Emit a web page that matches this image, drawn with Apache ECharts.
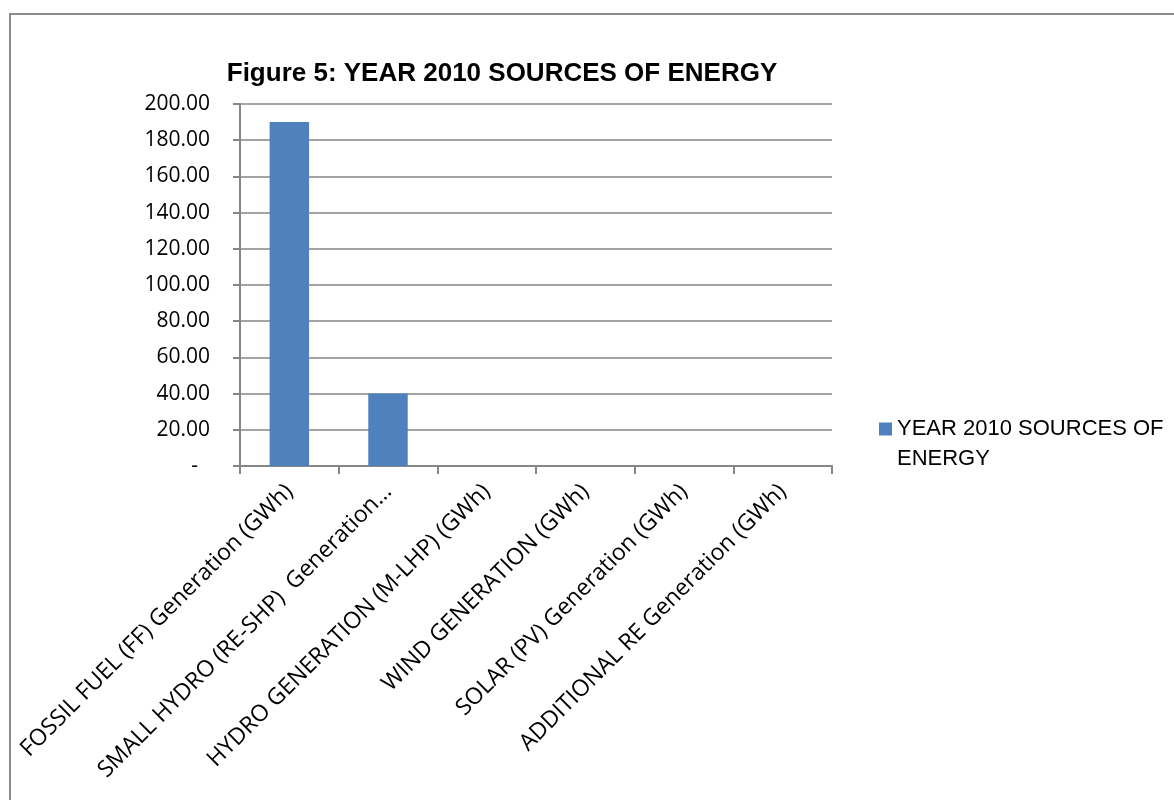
<!DOCTYPE html>
<html><head><meta charset="utf-8">
<script src="https://cdn.jsdelivr.net/npm/echarts@6/dist/echarts.min.js"></script>
<style>html,body{margin:0;padding:0;background:#fff}#c{width:1174px;height:800px}</style>
</head><body><div id="c"></div>
<script>
var categories = ['FOSSIL FUEL (FF) Generation (GWh)','SMALL HYDRO (RE-SHP)  Generation…','HYDRO GENERATION (M-LHP) (GWh)','WIND GENERATION (GWh)','SOLAR (PV) Generation (GWh)','ADDITIONAL RE Generation (GWh)'];
var values = [190, 40, 0, 0, 0, 0];
var seriesName = 'YEAR 2010 SOURCES OF ENERGY';
var titleText = 'Figure 5: YEAR 2010 SOURCES OF ENERGY';
var chart = echarts.init(document.getElementById('c'));
chart.setOption({
  animation:false,
  title:{text:titleText,left:497,top:56,textAlign:'center',textStyle:{fontFamily:'Liberation Sans',fontWeight:'bold',fontSize:26,color:'#000'}},
  graphic:[{type:'rect',shape:{x:10,y:14,width:1200,height:820},style:{fill:'none',stroke:'#8c8c8c',lineWidth:2}}],
  legend:{left:874,top:379,orient:'vertical',itemWidth:13,itemHeight:13,icon:'rect',
    formatter:function(){return '\nYEAR 2010 SOURCES OF\nENERGY';},
    textStyle:{fontFamily:'Liberation Sans',fontSize:22,color:'#000',lineHeight:30}},
  grid:{left:240,right:342,top:104,bottom:334},
  xAxis:{type:'category',data:categories,
    axisLine:{lineStyle:{color:'#868686',width:2}},
    axisTick:{show:true,length:8,lineStyle:{color:'#868686',width:2}},
    axisLabel:{rotate:45,interval:0,fontFamily:'Open Sans, Noto Sans',fontSize:23,color:'#000',margin:22}},
  yAxis:{type:'value',min:0,max:200,interval:20,
    axisLine:{show:true,lineStyle:{color:'#868686',width:2}},
    axisTick:{show:true,length:7,inside:false,lineStyle:{color:'#868686',width:2}},
    splitLine:{lineStyle:{color:'#868686',width:1.5}},
    axisLabel:{fontFamily:'Open Sans',fontSize:21,color:'#000',margin:30,
      formatter:function(v){return v===0?'{z|-}':v.toFixed(2);},
      rich:{z:{fontFamily:'Open Sans',fontSize:21,color:'#000',padding:[0,12,0,0]}}}},
  series:[{name:seriesName,type:'bar',data:values,barWidth:'40%',itemStyle:{color:'#4f81bd'}}]
});
</script></body></html>
